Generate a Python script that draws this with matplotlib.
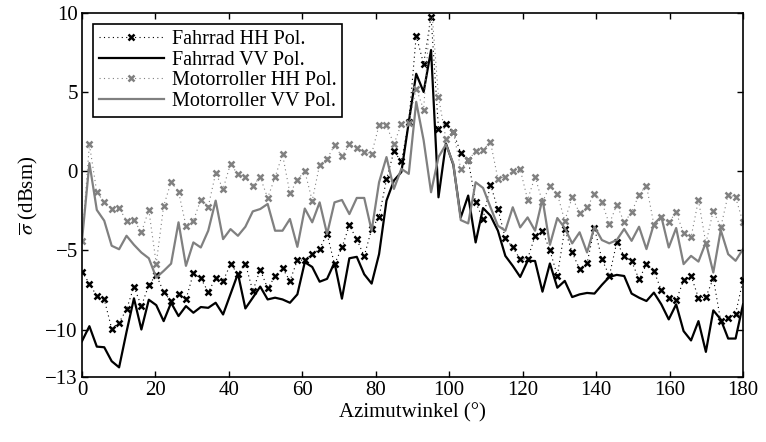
import numpy as np
import matplotlib
matplotlib.use("Agg")
import matplotlib.pyplot as plt

plt.rcParams["font.family"] = ["Liberation Serif", "DejaVu Serif"]
plt.rcParams["mathtext.fontset"] = "stix"

# 90 samples evenly spaced from 0 to 180 degrees
angle = np.linspace(0, 180, 90)

fahrrad_hh = [
    -6.34, -7.10, -7.89, -8.10, -9.94, -9.56, -8.73, -7.29, -8.52, -7.19,
    -6.55, -7.63, -8.20, -7.74, -8.10, -6.45, -6.77, -7.63, -6.77, -6.93,
    -5.88, -6.47, -5.84, -7.57, -6.22, -7.40, -6.64, -6.13, -6.93, -5.62,
    -5.62, -5.24, -4.90, -3.95, -5.88, -4.82, -3.42, -4.31, -5.37, -3.66,
    -2.88, -0.52, 1.25, 0.62, 3.10, 8.56, 6.77, 9.75, 2.68, 2.96,
    2.47, 1.14, 0.72, -1.97, -3.02, -0.85, -2.39, -4.23, -4.82, -5.56,
    -5.53, -4.10, -3.80, -4.99, -6.61, -3.65, -5.13, -6.19, -5.83, -3.59,
    -5.56, -6.61, -4.50, -5.35, -5.70, -6.83, -5.88, -6.30, -7.52, -8.03,
    -8.16, -6.89, -6.61, -7.99, -7.95, -6.76, -9.47, -9.26, -9.00, -6.89,
]

fahrrad_vv = [
    -10.74, -9.79, -11.08, -11.12, -12.00, -12.39, -10.15, -8.03, -10.00, -8.12,
    -8.46, -9.47, -8.31, -9.15, -8.52, -8.94, -8.58, -8.63, -8.31, -9.05,
    -7.76, -6.47, -8.67, -7.99, -7.29, -8.10, -7.99, -8.10, -8.31, -7.78,
    -5.75, -6.05, -6.98, -6.80, -5.77, -8.05, -5.50, -5.41, -6.51, -7.10,
    -5.24, -1.86, -0.59, -0.06, 3.10, 6.15, 5.00, 7.65, -1.65, 1.75,
    0.40, -2.92, -1.54, -4.50, -2.33, -2.81, -3.76, -5.35, -5.98, -6.68,
    -5.67, -5.67, -7.61, -5.83, -7.36, -6.93, -7.95, -7.78, -7.69, -7.73,
    -7.18, -6.68, -6.55, -6.62, -7.73, -7.99, -8.20, -7.67, -8.41, -9.36,
    -8.41, -10.10, -10.69, -9.47, -11.41, -8.79, -9.36, -10.57, -10.57, -8.41,
]

motorroller_hh = [
    -4.44, 1.69, -1.33, -1.95, -2.37, -2.33, -3.13, -3.09, -3.87, -2.45,
    -5.84, -2.20, -0.68, -1.29, -3.45, -3.13, -1.80, -2.24, -0.13, -1.12,
    0.47, -0.21, -0.34, -0.91, -0.38, -1.69, -0.38, 1.06, -1.40, -0.55,
    0.00, -1.86, 0.42, 0.78, 1.63, 0.93, 1.69, 1.48, 1.21, 1.10,
    2.90, 2.90, 1.69, 3.00, 3.04, 5.22, 3.89, 10.80, 4.69, 2.05,
    2.47, 0.15, 0.68, 1.27, 1.35, 1.84, -0.49, -0.34, 0.00, 0.12,
    -1.80, -0.34, -1.96, -0.91, -1.44, -3.13, -1.65, -2.66, -2.28, -1.44,
    -1.96, -3.34, -2.11, -3.23, -2.60, -1.48, -0.91, -3.38, -2.92, -3.23,
    -2.60, -3.93, -4.18, -1.82, -4.56, -2.49, -3.55, -1.48, -1.65, -3.23,
]

motorroller_vv = [
    -4.40, 0.51, -2.45, -3.13, -4.71, -4.93, -4.08, -4.65, -5.14, -5.50,
    -6.72, -6.30, -5.84, -3.23, -5.98, -4.50, -4.82, -3.76, -1.86, -4.29,
    -3.66, -4.08, -3.51, -2.54, -2.39, -2.07, -3.76, -3.76, -3.02, -4.78,
    -2.36, -3.23, -1.97, -3.97, -1.97, -1.82, -2.71, -1.69, -1.69, -3.76,
    -0.70, 0.89, -1.12, 0.15, -0.17, 4.38, 1.95, -1.33, 0.89, 1.69,
    0.47, -3.09, -3.30, -0.70, -1.06, -2.28, -3.45, -3.76, -2.28, -3.55,
    -2.92, -3.76, -1.75, -4.65, -2.96, -3.59, -4.56, -3.86, -5.13, -3.51,
    -4.35, -4.56, -4.35, -3.65, -4.40, -3.51, -4.92, -3.34, -2.87, -4.82,
    -3.59, -5.87, -5.35, -5.71, -4.50, -6.40, -3.72, -5.24, -5.66, -4.92,
]

x_ticks = [0, 20, 40, 60, 80, 100, 120, 140, 160, 180]
y_ticks = [-13, -10, -5, 0, 5, 10]

GRAY = "0.5"
DOTTED = (0, (1, 3))   # sparse matlab-like dots

fig = plt.figure(figsize=(7.66, 4.42), dpi=100)
ax = fig.add_axes([0.107, 0.147, 0.863, 0.824])

ax.plot(angle, fahrrad_hh, linestyle=DOTTED, linewidth=0.8, color="k",
        marker="x", markersize=5, markeredgewidth=1.8,
        label="Fahrrad HH Pol.")
ax.plot(angle, fahrrad_vv, linestyle="-", linewidth=1.6, color="k",
        label="Fahrrad VV Pol.")
ax.plot(angle, motorroller_hh, linestyle=DOTTED, linewidth=0.8, color=GRAY,
        marker="x", markersize=5, markeredgewidth=1.8,
        label="Motorroller HH Pol.")
ax.plot(angle, motorroller_vv, linestyle="-", linewidth=1.6, color=GRAY,
        label="Motorroller VV Pol.")

ax.set_xlim(0, 180)
ax.set_ylim(-13, 10)
ax.set_xticks(x_ticks)
ax.set_yticks(y_ticks)
ax.tick_params(direction="in", length=4.5, width=1.0, top=True, right=True,
               labelsize=15, pad=3)
for sp in ax.spines.values():
    sp.set_linewidth(1.2)

ax.set_xlabel("Azimutwinkel (°)", fontsize=15, labelpad=2)
ax.set_ylabel(r"$\overline{\sigma}$ (dBsm)", fontsize=15, labelpad=4)

leg = ax.legend(loc="upper left", fontsize=14.5, frameon=True, fancybox=False,
                framealpha=1, edgecolor="k", handlelength=3.2,
                borderpad=0.3, labelspacing=0.08, handletextpad=0.4,
                borderaxespad=0.55)
leg.get_frame().set_linewidth(1.2)

fig.savefig("out.png", dpi=100)
